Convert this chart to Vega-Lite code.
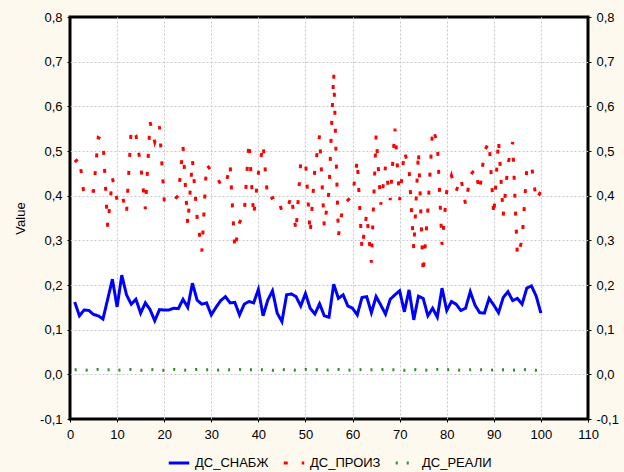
{
"$schema": "https://vega.github.io/schema/vega-lite/v6.json",
"autosize": {"type": "none"},
"width": 518,
"height": 402,
"padding": {"left": 70, "top": 17, "right": 36, "bottom": 53},
"background": "#fdf9ee",
"config": {
  "view": {"fill": "white", "stroke": "black", "strokeWidth": 3},
  "font": "Liberation Sans",
  "axis": {"domain": false, "labelFlush": false, "tickColor": "black", "tickSize": 3, "labelFont": "Liberation Sans", "labelFontSize": 13, "labelColor": "black", "gridColor": "#c8c8c8", "gridDash": [2, 2], "gridWidth": 1, "titleFont": "Liberation Sans", "titleFontWeight": "normal", "titleFontSize": 13, "titleColor": "black"},
  "legend": {"layout": {"bottom": {"anchor": "middle"}}}
},
"data": {"values": [
{"x":1,"ДС_СНАБЖ":0.162,"ДС_ПРОИЗ":0.475,"ДС_РЕАЛИ":0.010},
{"x":2,"ДС_СНАБЖ":0.131,"ДС_ПРОИЗ":0.485,"ДС_РЕАЛИ":0.011},
{"x":3,"ДС_СНАБЖ":0.144,"ДС_ПРОИЗ":0.400,"ДС_РЕАЛИ":0.010},
{"x":4,"ДС_СНАБЖ":0.143,"ДС_ПРОИЗ":0.410,"ДС_РЕАЛИ":0.009},
{"x":5,"ДС_СНАБЖ":0.134,"ДС_ПРОИЗ":0.410,"ДС_РЕАЛИ":0.010},
{"x":6,"ДС_СНАБЖ":0.131,"ДС_ПРОИЗ":0.530,"ДС_РЕАЛИ":0.011},
{"x":7,"ДС_СНАБЖ":0.124,"ДС_ПРОИЗ":0.525,"ДС_РЕАЛИ":0.010},
{"x":8,"ДС_СНАБЖ":0.168,"ДС_ПРОИЗ":0.330,"ДС_РЕАЛИ":0.010},
{"x":9,"ДС_СНАБЖ":0.213,"ДС_ПРОИЗ":0.440,"ДС_РЕАЛИ":0.011},
{"x":10,"ДС_СНАБЖ":0.151,"ДС_ПРОИЗ":0.390,"ДС_РЕАЛИ":0.009},
{"x":11,"ДС_СНАБЖ":0.222,"ДС_ПРОИЗ":0.405,"ДС_РЕАЛИ":0.010},
{"x":12,"ДС_СНАБЖ":0.178,"ДС_ПРОИЗ":0.360,"ДС_РЕАЛИ":0.010},
{"x":13,"ДС_СНАБЖ":0.157,"ДС_ПРОИЗ":0.550,"ДС_РЕАЛИ":0.011},
{"x":14,"ДС_СНАБЖ":0.168,"ДС_ПРОИЗ":0.535,"ДС_РЕАЛИ":0.010},
{"x":15,"ДС_СНАБЖ":0.137,"ДС_ПРОИЗ":0.470,"ДС_РЕАЛИ":0.009},
{"x":16,"ДС_СНАБЖ":0.160,"ДС_ПРОИЗ":0.370,"ДС_РЕАЛИ":0.010},
{"x":17,"ДС_СНАБЖ":0.145,"ДС_ПРОИЗ":0.565,"ДС_РЕАЛИ":0.011},
{"x":18,"ДС_СНАБЖ":0.120,"ДС_ПРОИЗ":0.520,"ДС_РЕАЛИ":0.010},
{"x":19,"ДС_СНАБЖ":0.145,"ДС_ПРОИЗ":0.555,"ДС_РЕАЛИ":0.010},
{"x":20,"ДС_СНАБЖ":0.144,"ДС_ПРОИЗ":0.390,"ДС_РЕАЛИ":0.009},
{"x":21,"ДС_СНАБЖ":0.144,"ДС_ПРОИЗ":0.380,"ДС_РЕАЛИ":0.010},
{"x":22,"ДС_СНАБЖ":0.148,"ДС_ПРОИЗ":0.390,"ДС_РЕАЛИ":0.011},
{"x":23,"ДС_СНАБЖ":0.147,"ДС_ПРОИЗ":0.400,"ДС_РЕАЛИ":0.010},
{"x":24,"ДС_СНАБЖ":0.168,"ДС_ПРОИЗ":0.510,"ДС_РЕАЛИ":0.010},
{"x":25,"ДС_СНАБЖ":0.150,"ДС_ПРОИЗ":0.335,"ДС_РЕАЛИ":0.009},
{"x":26,"ДС_СНАБЖ":0.204,"ДС_ПРОИЗ":0.480,"ДС_РЕАЛИ":0.010},
{"x":27,"ДС_СНАБЖ":0.166,"ДС_ПРОИЗ":0.350,"ДС_РЕАЛИ":0.011},
{"x":28,"ДС_СНАБЖ":0.157,"ДС_ПРОИЗ":0.275,"ДС_РЕАЛИ":0.010},
{"x":29,"ДС_СНАБЖ":0.160,"ДС_ПРОИЗ":0.470,"ДС_РЕАЛИ":0.010},
{"x":30,"ДС_СНАБЖ":0.133,"ДС_ПРОИЗ":0.455,"ДС_РЕАЛИ":0.010},
{"x":31,"ДС_СНАБЖ":0.150,"ДС_ПРОИЗ":0.445,"ДС_РЕАЛИ":0.009},
{"x":32,"ДС_СНАБЖ":0.165,"ДС_ПРОИЗ":0.425,"ДС_РЕАЛИ":0.010},
{"x":33,"ДС_СНАБЖ":0.174,"ДС_ПРОИЗ":0.420,"ДС_РЕАЛИ":0.011},
{"x":34,"ДС_СНАБЖ":0.160,"ДС_ПРОИЗ":0.470,"ДС_РЕАЛИ":0.010},
{"x":35,"ДС_СНАБЖ":0.161,"ДС_ПРОИЗ":0.280,"ДС_РЕАЛИ":0.010},
{"x":36,"ДС_СНАБЖ":0.133,"ДС_ПРОИЗ":0.340,"ДС_РЕАЛИ":0.011},
{"x":37,"ДС_СНАБЖ":0.157,"ДС_ПРОИЗ":0.360,"ДС_РЕАЛИ":0.009},
{"x":38,"ДС_СНАБЖ":0.163,"ДС_ПРОИЗ":0.520,"ДС_РЕАЛИ":0.010},
{"x":39,"ДС_СНАБЖ":0.160,"ДС_ПРОИЗ":0.355,"ДС_РЕАЛИ":0.010},
{"x":40,"ДС_СНАБЖ":0.190,"ДС_ПРОИЗ":0.450,"ДС_РЕАЛИ":0.011},
{"x":41,"ДС_СНАБЖ":0.131,"ДС_ПРОИЗ":0.515,"ДС_РЕАЛИ":0.010},
{"x":42,"ДС_СНАБЖ":0.166,"ДС_ПРОИЗ":0.390,"ДС_РЕАЛИ":0.010},
{"x":43,"ДС_СНАБЖ":0.187,"ДС_ПРОИЗ":0.395,"ДС_РЕАЛИ":0.009},
{"x":44,"ДС_СНАБЖ":0.137,"ДС_ПРОИЗ":0.400,"ДС_РЕАЛИ":0.010},
{"x":45,"ДС_СНАБЖ":0.118,"ДС_ПРОИЗ":0.365,"ДС_РЕАЛИ":0.011},
{"x":46,"ДС_СНАБЖ":0.178,"ДС_ПРОИЗ":0.365,"ДС_РЕАЛИ":0.010},
{"x":47,"ДС_СНАБЖ":0.180,"ДС_ПРОИЗ":0.400,"ДС_РЕАЛИ":0.010},
{"x":48,"ДС_СНАБЖ":0.174,"ДС_ПРОИЗ":0.320,"ДС_РЕАЛИ":0.009},
{"x":49,"ДС_СНАБЖ":0.153,"ДС_ПРОИЗ":0.475,"ДС_РЕАЛИ":0.010},
{"x":50,"ДС_СНАБЖ":0.181,"ДС_ПРОИЗ":0.480,"ДС_РЕАЛИ":0.011},
{"x":51,"ДС_СНАБЖ":0.148,"ДС_ПРОИЗ":0.315,"ДС_РЕАЛИ":0.010},
{"x":52,"ДС_СНАБЖ":0.135,"ДС_ПРОИЗ":0.460,"ДС_РЕАЛИ":0.010},
{"x":53,"ДС_СНАБЖ":0.158,"ДС_ПРОИЗ":0.535,"ДС_РЕАЛИ":0.011},
{"x":54,"ДС_СНАБЖ":0.131,"ДС_ПРОИЗ":0.330,"ДС_РЕАЛИ":0.009},
{"x":55,"ДС_СНАБЖ":0.128,"ДС_ПРОИЗ":0.410,"ДС_РЕАЛИ":0.010},
{"x":56,"ДС_СНАБЖ":0.202,"ДС_ПРОИЗ":0.675,"ДС_РЕАЛИ":0.010},
{"x":57,"ДС_СНАБЖ":0.170,"ДС_ПРОИЗ":0.310,"ДС_РЕАЛИ":0.011},
{"x":58,"ДС_СНАБЖ":0.178,"ДС_ПРОИЗ":0.380,"ДС_РЕАЛИ":0.010},
{"x":59,"ДС_СНАБЖ":0.153,"ДС_ПРОИЗ":0.390,"ДС_РЕАЛИ":0.009},
{"x":60,"ДС_СНАБЖ":0.148,"ДС_ПРОИЗ":0.400,"ДС_РЕАЛИ":0.010},
{"x":61,"ДС_СНАБЖ":0.133,"ДС_ПРОИЗ":0.480,"ДС_РЕАЛИ":0.010},
{"x":62,"ДС_СНАБЖ":0.172,"ДС_ПРОИЗ":0.280,"ДС_РЕАЛИ":0.011},
{"x":63,"ДС_СНАБЖ":0.174,"ДС_ПРОИЗ":0.360,"ДС_РЕАЛИ":0.010},
{"x":64,"ДС_СНАБЖ":0.138,"ДС_ПРОИЗ":0.250,"ДС_РЕАЛИ":0.010},
{"x":65,"ДС_СНАБЖ":0.174,"ДС_ПРОИЗ":0.535,"ДС_РЕАЛИ":0.009},
{"x":66,"ДС_СНАБЖ":0.155,"ДС_ПРОИЗ":0.380,"ДС_РЕАЛИ":0.010},
{"x":67,"ДС_СНАБЖ":0.135,"ДС_ПРОИЗ":0.465,"ДС_РЕАЛИ":0.011},
{"x":68,"ДС_СНАБЖ":0.168,"ДС_ПРОИЗ":0.390,"ДС_РЕАЛИ":0.010},
{"x":69,"ДС_СНАБЖ":0.178,"ДС_ПРОИЗ":0.550,"ДС_РЕАЛИ":0.010},
{"x":70,"ДС_СНАБЖ":0.187,"ДС_ПРОИЗ":0.390,"ДС_РЕАЛИ":0.010},
{"x":71,"ДС_СНАБЖ":0.140,"ДС_ПРОИЗ":0.500,"ДС_РЕАЛИ":0.009},
{"x":72,"ДС_СНАБЖ":0.189,"ДС_ПРОИЗ":0.460,"ДС_РЕАЛИ":0.010},
{"x":73,"ДС_СНАБЖ":0.122,"ДС_ПРОИЗ":0.280,"ДС_РЕАЛИ":0.011},
{"x":74,"ДС_СНАБЖ":0.175,"ДС_ПРОИЗ":0.500,"ДС_РЕАЛИ":0.010},
{"x":75,"ДС_СНАБЖ":0.170,"ДС_ПРОИЗ":0.225,"ДС_РЕАЛИ":0.010},
{"x":76,"ДС_СНАБЖ":0.131,"ДС_ПРОИЗ":0.370,"ДС_РЕАЛИ":0.009},
{"x":77,"ДС_СНАБЖ":0.148,"ДС_ПРОИЗ":0.550,"ДС_РЕАЛИ":0.010},
{"x":78,"ДС_СНАБЖ":0.128,"ДС_ПРОИЗ":0.520,"ДС_РЕАЛИ":0.011},
{"x":79,"ДС_СНАБЖ":0.193,"ДС_ПРОИЗ":0.290,"ДС_РЕАЛИ":0.010},
{"x":80,"ДС_СНАБЖ":0.143,"ДС_ПРОИЗ":0.410,"ДС_РЕАЛИ":0.010},
{"x":81,"ДС_СНАБЖ":0.163,"ДС_ПРОИЗ":0.445,"ДС_РЕАЛИ":0.011},
{"x":82,"ДС_СНАБЖ":0.157,"ДС_ПРОИЗ":0.410,"ДС_РЕАЛИ":0.010},
{"x":83,"ДС_СНАБЖ":0.143,"ДС_ПРОИЗ":0.440,"ДС_РЕАЛИ":0.009},
{"x":84,"ДС_СНАБЖ":0.148,"ДС_ПРОИЗ":0.380,"ДС_РЕАЛИ":0.010},
{"x":85,"ДС_СНАБЖ":0.185,"ДС_ПРОИЗ":0.445,"ДС_РЕАЛИ":0.010},
{"x":86,"ДС_СНАБЖ":0.155,"ДС_ПРОИЗ":0.460,"ДС_РЕАЛИ":0.011},
{"x":87,"ДС_СНАБЖ":0.138,"ДС_ПРОИЗ":0.410,"ДС_РЕАЛИ":0.010},
{"x":88,"ДС_СНАБЖ":0.137,"ДС_ПРОИЗ":0.500,"ДС_РЕАЛИ":0.010},
{"x":89,"ДС_СНАБЖ":0.170,"ДС_ПРОИЗ":0.520,"ДС_РЕАЛИ":0.009},
{"x":90,"ДС_СНАБЖ":0.155,"ДС_ПРОИЗ":0.355,"ДС_РЕАЛИ":0.010},
{"x":91,"ДС_СНАБЖ":0.138,"ДС_ПРОИЗ":0.525,"ДС_РЕАЛИ":0.011},
{"x":92,"ДС_СНАБЖ":0.172,"ДС_ПРОИЗ":0.355,"ДС_РЕАЛИ":0.010},
{"x":93,"ДС_СНАБЖ":0.185,"ДС_ПРОИЗ":0.470,"ДС_РЕАЛИ":0.010},
{"x":94,"ДС_СНАБЖ":0.165,"ДС_ПРОИЗ":0.520,"ДС_РЕАЛИ":0.009},
{"x":95,"ДС_СНАБЖ":0.170,"ДС_ПРОИЗ":0.265,"ДС_РЕАЛИ":0.010},
{"x":96,"ДС_СНАБЖ":0.157,"ДС_ПРОИЗ":0.300,"ДС_РЕАЛИ":0.011},
{"x":97,"ДС_СНАБЖ":0.193,"ДС_ПРОИЗ":0.460,"ДС_РЕАЛИ":0.010},
{"x":98,"ДС_СНАБЖ":0.198,"ДС_ПРОИЗ":0.470,"ДС_РЕАЛИ":0.010},
{"x":99,"ДС_СНАБЖ":0.175,"ДС_ПРОИЗ":0.390,"ДС_РЕАЛИ":0.009},
{"x":100,"ДС_СНАБЖ":0.137,"ДС_ПРОИЗ":0.410,"ДС_РЕАЛИ":0.010}
]},
"transform": [{"fold": ["ДС_СНАБЖ", "ДС_ПРОИЗ", "ДС_РЕАЛИ"], "as": ["series", "value"]}],
"layer": [
  {
    "mark": {"type": "line", "strokeCap": "butt", "strokeJoin": "miter"},
    "encoding": {
      "x": {"field": "x", "type": "quantitative", "scale": {"domain": [0, 110], "nice": false}, "axis": {"values": [0,10,20,30,40,50,60,70,80,90,100,110], "title": null, "labelPadding": 6, "grid": true, "gridOpacity": {"condition": {"test": "datum.value == 0 || datum.value == 110", "value": 0}, "value": 1}}},
      "y": {"field": "value", "type": "quantitative", "scale": {"domain": [-0.1, 0.8], "nice": false, "zero": false}, "axis": {"orient": "left", "values": [-0.1,0,0.1,0.2,0.3,0.4,0.5,0.6,0.7,0.8], "title": "Value", "titlePadding": 12, "labelPadding": 5, "grid": true, "gridOpacity": {"condition": {"test": "datum.value < -0.05 || datum.value > 0.75", "value": 0}, "value": 1}, "labelExpr": "replace(replace(format(datum.value, '.1f'), '.', ','), '\u2212', '-')"}},
      "color": {"field": "series", "type": "nominal", "scale": {"domain": ["ДС_СНАБЖ", "ДС_ПРОИЗ", "ДС_РЕАЛИ"], "range": ["#0000ff", "#ff0000", "#2e8b2e"]}, "legend": {"orient": "bottom", "direction": "horizontal", "title": null, "symbolType": "stroke", "symbolStrokeWidth": 3, "symbolSize": 420, "labelFontSize": 13, "labelFont": "Liberation Sans", "labelColor": "black", "columnPadding": 8, "offset": 10}},
      "strokeDash": {"field": "series", "type": "nominal", "scale": {"domain": ["ДС_СНАБЖ", "ДС_ПРОИЗ", "ДС_РЕАЛИ"], "range": [[1, 0], [4, 14], [2, 9]]}, "legend": {"orient": "bottom", "direction": "horizontal", "title": null, "symbolType": "stroke", "symbolStrokeWidth": 3, "symbolSize": 420, "labelFontSize": 13, "labelFont": "Liberation Sans", "labelColor": "black", "columnPadding": 8, "offset": 10}},
      "strokeWidth": {"field": "series", "type": "nominal", "scale": {"domain": ["ДС_СНАБЖ", "ДС_ПРОИЗ", "ДС_РЕАЛИ"], "range": [3, 3, 2]}, "legend": null}
    }
  },
  {
    "mark": {"type": "point", "opacity": 0},
    "encoding": {
      "x": {"field": "x", "type": "quantitative", "scale": {"domain": [0, 110], "nice": false}},
      "y": {"field": "value", "type": "quantitative", "scale": {"domain": [-0.1, 0.8], "nice": false, "zero": false}, "axis": {"orient": "right", "values": [-0.1,0,0.1,0.2,0.3,0.4,0.5,0.6,0.7,0.8], "title": null, "labelPadding": 5, "grid": false, "labelExpr": "replace(replace(format(datum.value, '.1f'), '.', ','), '\u2212', '-')"}}
    }
  }
],
"resolve": {"axis": {"y": "independent"}}
}
